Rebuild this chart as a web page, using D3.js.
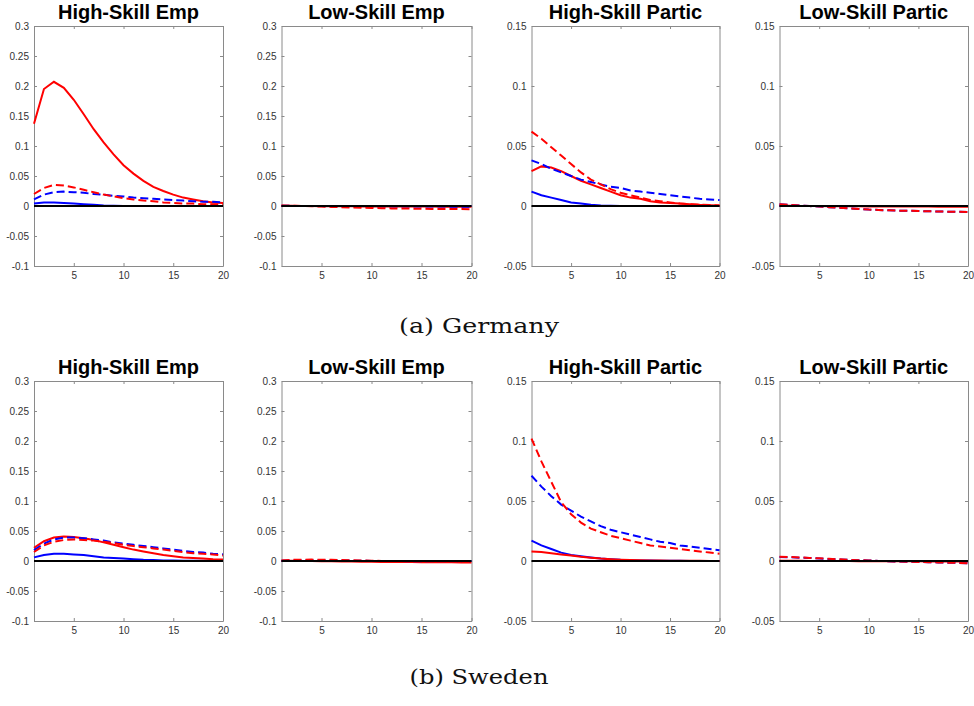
<!DOCTYPE html>
<html>
<head>
<meta charset="utf-8">
<script src="https://cdn.jsdelivr.net/npm/d3@7"></script>
<style>
  body { margin: 0; background: #fff; }
  .tick text { font-family: "Liberation Sans", Arial, sans-serif; font-size: 10px; fill: #333; }
</style>
</head>
<body>
<script>
// horizon (quarters)
const horizon = [1,2,3,4,5,6,7,8,9,10,11,12,13,14,15,16,17,18,19,20];

const titles = ['High-Skill Emp', 'Low-Skill Emp', 'High-Skill Partic', 'Low-Skill Partic'];
const captions = ['(a) Germany', '(b) Sweden'];
const xTicks = [5, 10, 15, 20];
const yTicksEmp = [-0.1, -0.05, 0, 0.05, 0.1, 0.15, 0.2, 0.25, 0.3];
const yTicksPartic = [-0.05, 0, 0.05, 0.1, 0.15];

// ---- Germany ----
const deHsEmpRed     = [0.137,0.195,0.207,0.197,0.177,0.153,0.128,0.106,0.086,0.068,0.054,0.042,0.032,0.025,0.019,0.014,0.011,0.008,0.006,0.005];
const deHsEmpRedDash = [0.020,0.030,0.035,0.034,0.031,0.027,0.023,0.019,0.016,0.013,0.011,0.009,0.008,0.006,0.005,0.004,0.004,0.003,0.003,0.003];
const deHsEmpBlue    = [0.004,0.006,0.006,0.005,0.004,0.003,0.002,0.001,0.0005,0.0002,0,0,0,0,0,0,0,0,0,0];
const deHsEmpBlueDash= [0.011,0.019,0.023,0.024,0.023,0.022,0.020,0.019,0.017,0.016,0.014,0.013,0.012,0.011,0.010,0.009,0.008,0.007,0.007,0.006];

const deLsEmpRed     = [0.0005,0.0003,0,-0.0002,-0.0003,-0.0004,-0.0005,-0.0006,-0.0007,-0.0008,-0.0008,-0.0009,-0.0009,-0.001,-0.001,-0.001,-0.0011,-0.0011,-0.0011,-0.0012];
const deLsEmpRedDash = [0.001,0.0005,0,-0.0005,-0.001,-0.0015,-0.002,-0.0025,-0.003,-0.0033,-0.0036,-0.004,-0.0042,-0.0044,-0.0046,-0.0048,-0.005,-0.005,-0.0052,-0.0054];
const deLsEmpBlue    = [0,0,0,0,0,0,0,0,0,0,0,0,0,0,0,0,0,0,0,0];
const deLsEmpBlueDash= [0.0003,0.0002,0,-0.0001,-0.0002,-0.0003,-0.0004,-0.0005,-0.0006,-0.0007,-0.0008,-0.0008,-0.0009,-0.0009,-0.001,-0.001,-0.001,-0.0011,-0.0011,-0.0011];

const deHsParRed     = [0.029,0.033,0.032,0.029,0.025,0.021,0.018,0.015,0.012,0.009,0.007,0.006,0.004,0.003,0.0025,0.002,0.0015,0.001,0.0007,0.0005];
const deHsParRedDash = [0.062,0.056,0.049,0.042,0.035,0.028,0.022,0.018,0.014,0.011,0.009,0.007,0.005,0.004,0.003,0.002,0.0015,0.001,0.0008,0.0005];
const deHsParBlue    = [0.012,0.009,0.007,0.005,0.003,0.002,0.001,0.0005,0.0002,0,0,0,0,0,0,0,0,0,0,0];
const deHsParBlueDash= [0.038,0.035,0.031,0.028,0.025,0.022,0.020,0.018,0.016,0.015,0.013,0.012,0.011,0.010,0.009,0.008,0.007,0.006,0.0055,0.005];

const deLsParRed     = [0.0005,0.0003,0.0001,0,-0.0001,-0.0002,-0.0002,-0.0003,-0.0003,-0.0004,-0.0004,-0.0004,-0.0005,-0.0005,-0.0005,-0.0005,-0.0006,-0.0006,-0.0006,-0.0006];
const deLsParRedDash = [0.0015,0.001,0.0005,0,-0.0005,-0.001,-0.0015,-0.002,-0.0025,-0.003,-0.0033,-0.0036,-0.0039,-0.004,-0.0042,-0.0044,-0.0046,-0.0047,-0.0048,-0.005];
const deLsParBlue    = [0,0,0,0,0,0,0,0,0,0,0,0,0,0,0,0,0,0,0,0];
const deLsParBlueDash= [0.0014,0.0009,0.0005,0,-0.0005,-0.001,-0.0015,-0.002,-0.0025,-0.003,-0.0033,-0.0036,-0.0039,-0.004,-0.0042,-0.0044,-0.0046,-0.0047,-0.0048,-0.005];

// ---- Sweden ----
const seHsEmpRed     = [0.022,0.033,0.039,0.041,0.040,0.038,0.035,0.031,0.027,0.023,0.019,0.016,0.013,0.010,0.008,0.006,0.005,0.004,0.003,0.0025];
const seHsEmpRedDash = [0.015,0.026,0.032,0.035,0.036,0.035,0.034,0.032,0.030,0.027,0.025,0.023,0.021,0.019,0.017,0.015,0.013,0.012,0.011,0.009];
const seHsEmpBlue    = [0.006,0.010,0.012,0.012,0.011,0.010,0.008,0.006,0.005,0.004,0.003,0.002,0.0015,0.001,0.0008,0.0006,0.0005,0.0004,0.0003,0.0002];
const seHsEmpBlueDash= [0.018,0.029,0.036,0.039,0.039,0.038,0.036,0.034,0.031,0.029,0.027,0.025,0.023,0.021,0.019,0.017,0.015,0.014,0.012,0.011];

const seLsEmpRed     = [0.0005,0.0003,0,-0.0002,-0.0004,-0.0006,-0.0008,-0.001,-0.0012,-0.0013,-0.0015,-0.0016,-0.0017,-0.0018,-0.0019,-0.002,-0.0021,-0.0022,-0.0023,-0.0024];
const seLsEmpRedDash = [0.001,0.0018,0.0022,0.0023,0.0022,0.002,0.0017,0.0013,0.0009,0.0005,0.0001,-0.0002,-0.0005,-0.0007,-0.0009,-0.0011,-0.0013,-0.0014,-0.0015,-0.0016];
const seLsEmpBlue    = [0,0,0,0,0,0,0,0,0,0,0,0,0,0,0,0,0,0,0,0];
const seLsEmpBlueDash= [0.0006,0.001,0.0012,0.0012,0.0011,0.001,0.0008,0.0006,0.0004,0.0002,0,-0.0001,-0.0002,-0.0003,-0.0004,-0.0005,-0.0006,-0.0006,-0.0007,-0.0007];

const seHsParRed     = [0.008,0.0075,0.0065,0.0055,0.0045,0.0035,0.0027,0.002,0.0015,0.0011,0.0008,0.0006,0.0005,0.0004,0.0003,0.0003,0.0002,0.0002,0.0001,0.0001];
const seHsParRedDash = [0.102,0.083,0.066,0.049,0.039,0.032,0.027,0.024,0.021,0.019,0.017,0.015,0.013,0.012,0.011,0.010,0.009,0.008,0.007,0.006];
const seHsParBlue    = [0.017,0.013,0.010,0.007,0.005,0.004,0.003,0.002,0.0015,0.001,0.0007,0.0005,0.0004,0.0003,0.0002,0.0002,0.0001,0.0001,0.0001,0];
const seHsParBlueDash= [0.071,0.062,0.054,0.047,0.042,0.037,0.033,0.029,0.026,0.024,0.022,0.020,0.018,0.016,0.015,0.013,0.012,0.011,0.010,0.009];

const seLsParRed     = [0.0003,0.0002,0.0002,0.0001,0,0,-0.0001,-0.0001,-0.0002,-0.0002,-0.0002,-0.0003,-0.0003,-0.0003,-0.0003,-0.0004,-0.0004,-0.0004,-0.0004,-0.0004];
const seLsParRedDash = [0.0035,0.0033,0.003,0.0026,0.0022,0.0018,0.0014,0.001,0.0007,0.0004,0.0001,-0.0002,-0.0004,-0.0006,-0.0008,-0.001,-0.0012,-0.0014,-0.0016,-0.0018];
const seLsParBlue    = [0,0,0,0,0,0,0,0,0,0,0,0,0,0,0,0,0,0,0,0];
const seLsParBlueDash= [0.0033,0.0031,0.0028,0.0025,0.0021,0.0017,0.0013,0.001,0.0007,0.0004,0.0001,-0.0002,-0.0004,-0.0006,-0.0008,-0.001,-0.0012,-0.0014,-0.0016,-0.0018];

const panels = [
  [[deHsEmpRed, deHsEmpRedDash, deHsEmpBlue, deHsEmpBlueDash],
   [deLsEmpRed, deLsEmpRedDash, deLsEmpBlue, deLsEmpBlueDash],
   [deHsParRed, deHsParRedDash, deHsParBlue, deHsParBlueDash],
   [deLsParRed, deLsParRedDash, deLsParBlue, deLsParBlueDash]],
  [[seHsEmpRed, seHsEmpRedDash, seHsEmpBlue, seHsEmpBlueDash],
   [seLsEmpRed, seLsEmpRedDash, seLsEmpBlue, seLsEmpBlueDash],
   [seHsParRed, seHsParRedDash, seHsParBlue, seHsParBlueDash],
   [seLsParRed, seLsParRedDash, seLsParBlue, seLsParBlueDash]]
];

// layout
const W = 974, H = 706;
const colLeft = [34, 281.5, 531.5, 779.5];
const colRight = [223, 471.5, 719.5, 968];
const rowTop = [26, 381];
const plotH = 240;
const captionY = [333, 684];
const captionLen = [160, 139];

const svg = d3.select('body').append('svg')
    .attr('width', W)
    .attr('height', H);

// draw order: blue solid, red solid, blue dashed, red dashed
const styles = [
  {idx: 2, color: '#0000ff', dash: null},
  {idx: 0, color: '#ff0000', dash: null},
  {idx: 3, color: '#0000ff', dash: '8,4'},
  {idx: 1, color: '#ff0000', dash: '8,4'}
];

panels.forEach((row, r) => {
  row.forEach((series, c) => {
    const yTicks = c < 2 ? yTicksEmp : yTicksPartic;
    const x = d3.scaleLinear().domain([1, 20]).range([colLeft[c], colRight[c]]);
    const y = d3.scaleLinear().domain(d3.extent(yTicks)).range([rowTop[r] + plotH, rowTop[r]]);
    const g = svg.append('g');

    const fmt = d => String(d);

    // box + inward ticks
    g.append('g').attr('transform', `translate(0,${y.range()[0]})`)
      .call(d3.axisBottom(x).tickValues(xTicks).tickSizeInner(-3).tickSizeOuter(0).tickPadding(6).tickFormat(fmt));
    g.append('g').attr('transform', `translate(0,${y.range()[1]})`)
      .call(d3.axisTop(x).tickValues(xTicks).tickSizeInner(-3).tickSizeOuter(0).tickFormat(''));
    g.append('g').attr('transform', `translate(${x.range()[0]},0)`)
      .call(d3.axisLeft(y).tickValues(yTicks).tickSizeInner(-3).tickSizeOuter(0).tickPadding(5).tickFormat(fmt));
    g.append('g').attr('transform', `translate(${x.range()[1]},0)`)
      .call(d3.axisRight(y).tickValues(yTicks).tickSizeInner(-3).tickSizeOuter(0).tickFormat(''));
    g.selectAll('.domain, .tick line').attr('stroke', '#8a8a8a');

    const line = d3.line().x((d, i) => x(horizon[i])).y(d => y(d));

    styles.forEach(s => {
      g.append('path')
        .datum(series[s.idx])
        .attr('fill', 'none')
        .attr('stroke', s.color)
        .attr('stroke-width', 2)
        .attr('stroke-dasharray', s.dash)
        .attr('d', line);
    });

    // zero line
    g.append('line')
      .attr('x1', x(1)).attr('x2', x(20))
      .attr('y1', y(0)).attr('y2', y(0))
      .attr('stroke', '#000').attr('stroke-width', 2);

    g.append('text')
      .attr('x', (colLeft[c] + colRight[c]) / 2)
      .attr('y', rowTop[r] - 7)
      .attr('text-anchor', 'middle')
      .style('font-family', '"Liberation Sans", Arial, sans-serif')
      .style('font-weight', 'bold')
      .style('font-size', '20px')
      .text(titles[c]);
  });

  svg.append('text')
    .attr('x', 479)
    .attr('y', captionY[r])
    .attr('text-anchor', 'middle')
    .attr('textLength', captionLen[r])
    .attr('lengthAdjust', 'spacingAndGlyphs')
    .style('font-family', '"DejaVu Serif", "Liberation Serif", serif')
    .style('font-size', '21px')
    .style('fill', '#111')
    .text(captions[r]);
});
</script>
</body>
</html>
